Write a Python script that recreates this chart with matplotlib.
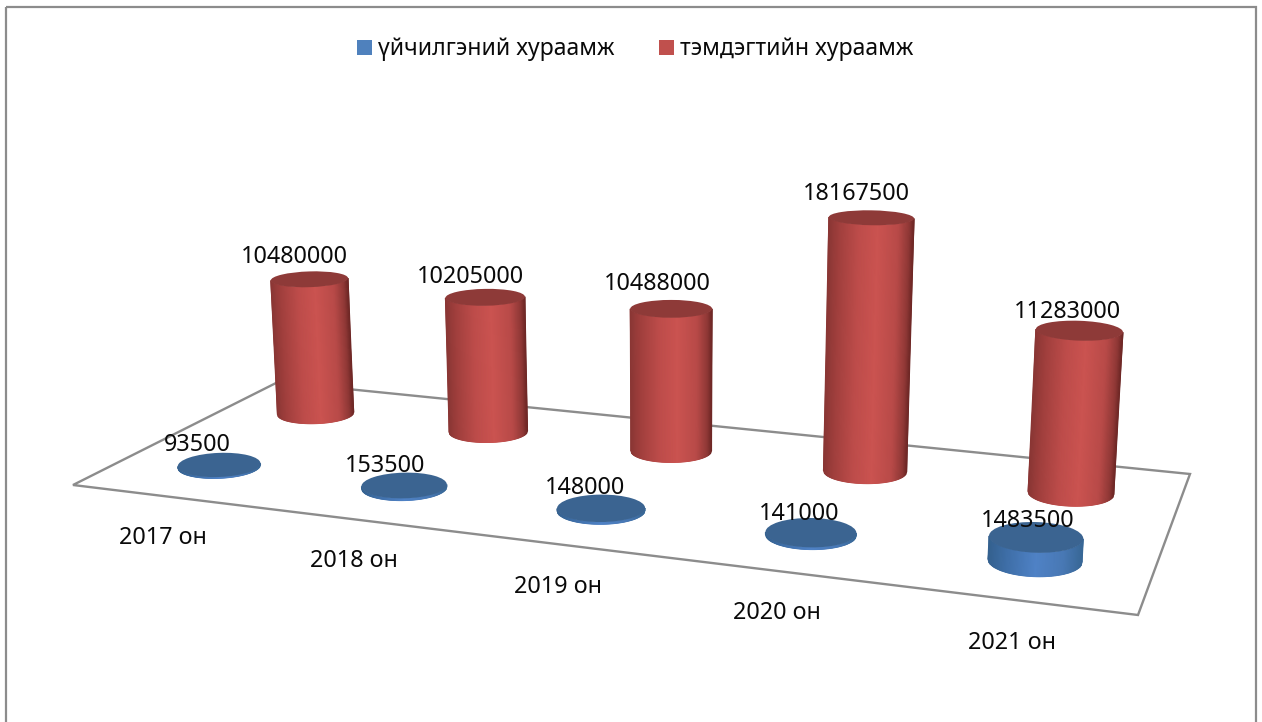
"""3D-style cylinder chart drawn on a flat axes with a projected floor."""

import numpy as np
import matplotlib
matplotlib.use("Agg")
import matplotlib.pyplot as plt
from matplotlib.colors import LinearSegmentedColormap
from matplotlib.patches import Ellipse, Polygon, Rectangle

# data
categories = ["2017 он", "2018 он", "2019 он", "2020 он", "2021 он"]
series_names = ["үйчилгэний хураамж", "тэмдэгтийн хураамж"]
service_fee = [93500, 153500, 148000, 141000, 1483500]
stamp_fee = [10480000, 10205000, 10488000, 18167500, 11283000]

# floor corners in pixels: front-left, front-right, back-right, back-left
FLOOR = [(73, 485), (1138, 615), (1190, 474), (278, 382)]
PX_PER_UNIT = 14.3e-6
RADIUS = 42.6

BLUE_TOP = "#3b6491"
RED_TOP = "#8e3a38"
BLUE = LinearSegmentedColormap.from_list("b", [(0, "#34618f"), (0.2, "#3f6fa8"), (0.5, "#4f82c6"),
                                               (0.8, "#4878b4"), (1, "#386796")])
RED = LinearSegmentedColormap.from_list("r", [(0, "#8a3634"), (0.12, "#a03f3d"), (0.35, "#bd4c4a"),
                                              (0.58, "#cb5350"), (0.82, "#b84a48"), (0.95, "#8f3836"),
                                              (1, "#6d2725")])
GRID = "#8c8c8c"
FONT = "Noto Sans"


def homography(q):
    (x0, y0), (x1, y1), (x2, y2), (x3, y3) = q
    A = np.array([[x1 - x2, x3 - x2], [y1 - y2, y3 - y2]], float)
    g, h = np.linalg.solve(A, [x0 - x1 + x2 - x3, y0 - y1 + y2 - y3])
    a, b = x1 - x0 + g * x1, x3 - x0 + h * x3
    d, e = y1 - y0 + g * y1, y3 - y0 + h * y3

    def project(u, v):
        w = g * u + h * v + 1
        return (a * u + b * v + x0) / w, (d * u + e * v + y0) / w, 1 / w
    return project


def ratio(y):
    # ellipses flatten towards the top of the picture
    return 0.19 + (y - 250) * 0.00047


def cylinder(ax, project, i, depth, value, cmap, top_color):
    bx, by, s = project((i + 0.5) / 5, depth)
    h = value * PX_PER_UNIT * s
    tx = bx + 1.3e-4 * (bx - 670) * h
    ty = by - h
    r0, r1 = RADIUS * s, RADIUS * s * (1 + h * 1e-4)
    tilt = (bx - 670) * 0.005

    t = np.linspace(-1, 1, 81)
    X = np.array([bx + r0 * t, tx + r1 * t])
    slope = np.tan(np.radians(tilt))
    Y = np.array([by + r0 * ratio(by) * np.sqrt(1 - t ** 2) + r0 * t * slope,
                  ty + r1 * ratio(ty) * np.sqrt(1 - t ** 2) + r1 * t * slope])
    ax.pcolormesh(X, Y, np.array([t, t]), cmap=cmap, vmin=-1, vmax=1, shading="gouraud", zorder=3)
    ax.add_patch(Ellipse((tx, ty), 2 * r1, 2 * r1 * ratio(ty), angle=tilt,
                         facecolor=top_color, edgecolor="none", zorder=4))
    return tx, ty


fig = plt.figure(figsize=(12.62, 7.22), dpi=100)
ax = fig.add_axes([0, 0, 1, 1])
ax.set_xlim(0, 1262)
ax.set_ylim(722, 0)
ax.axis("off")

ax.add_patch(Rectangle((6, 7), 1250, 730, fill=False, edgecolor=GRID, lw=1.6, zorder=1))
ax.add_patch(Polygon(FLOOR, closed=True, fill=False, edgecolor=GRID, lw=1.7, zorder=2))

project = homography(FLOOR)

# data label offsets from the top of each cylinder, pixels
red_off = [(-15, -24), (-15, -22), (-14, -27), (-15, -26), (-12, -21)]
blue_off = [(-22, -22), (-19, -21), (-16, -22), (-12, -21), (-8, -18)]
cat_pos = [(163, 538), (354, 561), (558, 587), (777, 613), (1012, 643)]

labels = []
for i, v in enumerate(stamp_fee):
    tx, ty = cylinder(ax, project, i, 0.75, v, RED, RED_TOP)
    labels.append((tx + red_off[i][0], ty + red_off[i][1] + 2, str(v)))
for i, v in enumerate(service_fee):
    tx, ty = cylinder(ax, project, i, 0.25, v, BLUE, BLUE_TOP)
    labels.append((tx + blue_off[i][0], ty + blue_off[i][1] + 2, str(v)))

for x, y, s in labels:
    ax.text(x, y, s, ha="center", va="center", fontsize=16.8, family=FONT, color="#0a0a0a", zorder=6)
for (x, y), c in zip(cat_pos, categories):
    ax.text(x, y, c, ha="center", va="center", fontsize=16.8, family=FONT, color="#0a0a0a", zorder=6)

# legend
for sq_x, txt_x, name, c in [(357, 378, series_names[0], "#4f81bd"), (659, 680, series_names[1], "#c0504d")]:
    ax.add_patch(Rectangle((sq_x, 40), 15, 15, facecolor=c, edgecolor="none", zorder=6))
    ax.text(txt_x, 49, name, ha="left", va="center", fontsize=16.6, family=FONT, color="#0a0a0a", zorder=6)

fig.savefig("out.png", dpi=100, facecolor="white")
plt.close(fig)
